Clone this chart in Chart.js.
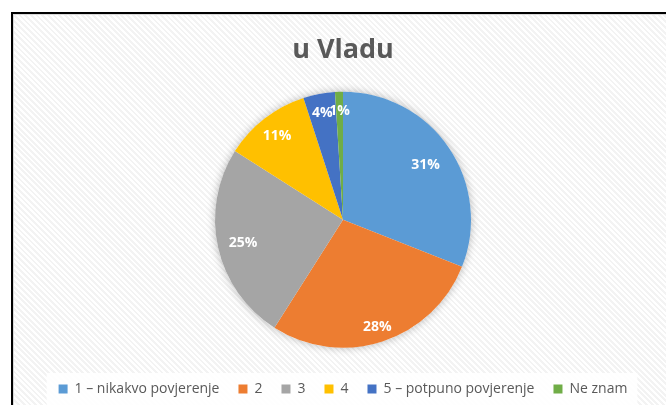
<!DOCTYPE html>
<html>
<head>
<meta charset="utf-8">
<script src="https://cdn.jsdelivr.net/npm/chart.js@4"></script>
<style>
  html, body { margin: 0; padding: 0; width: 666px; height: 405px; overflow: hidden; background: #ffffff; }
  #frame {
    position: absolute; left: 11px; top: 12px; width: 700px; height: 440px;
    border-left: 2px solid #000; border-top: 2px solid #000;
    box-shadow: inset 1px 1px 0 #d9d9d9;
    background: repeating-linear-gradient(45deg, #ffffff 0px, #ffffff 2px, #f3f3f3 2px, #f3f3f3 4px);
  }
  #wrap { position: absolute; left: 13px; top: 14px; width: 660px; height: 392px; }
</style>
</head>
<body>
<div id="frame"></div>
<div id="wrap"><canvas id="pie"></canvas></div>
<script>
// Povjerenje u Vladu
const categories = ['1 – nikakvo povjerenje', '2', '3', '4', '5 – potpuno povjerenje', 'Ne znam'];
const percentages = [31, 28, 25, 11, 4, 1];
const sliceColors = ['#5B9BD5', '#ED7D31', '#A5A5A5', '#FFC000', '#4472C4', '#70AD47'];
const chartTitle = 'u Vladu';

// Ombre douce sous le disque
const shadowPlugin = {
    id: 'pieShadow',
    beforeDatasetsDraw(chart) {
        const arc = chart.getDatasetMeta(0).data[0];
        if (!arc) return;
        const ctx = chart.ctx;
        ctx.save();
        ctx.shadowColor = 'rgba(0,0,0,0.28)';
        ctx.shadowBlur = 9;
        ctx.fillStyle = '#ffffff';
        ctx.beginPath();
        ctx.arc(arc.x, arc.y, arc.outerRadius, 0, Math.PI * 2);
        ctx.fill();
        ctx.restore();
    }
};

// Fond blanc derrière la légende
const legendBgPlugin = {
    id: 'legendBg',
    beforeDraw(chart) {
        const boxes = chart.legend && chart.legend.legendHitBoxes;
        if (!boxes || !boxes.length) return;
        const left = Math.min(...boxes.map(b => b.left)) - 12;
        const right = Math.max(...boxes.map(b => b.left + b.width)) + 10;
        const top = boxes[0].top - 9;
        const ctx = chart.ctx;
        ctx.save();
        ctx.fillStyle = 'rgba(255,255,255,0.85)';
        ctx.fillRect(left, top, right - left, 34);
        ctx.restore();
    }
};

// Étiquettes de pourcentage dans les parts
const labelPlugin = {
    id: 'sliceLabels',
    afterDatasetsDraw(chart, args, opts) {
        const ctx = chart.ctx;
        const meta = chart.getDatasetMeta(0);
        ctx.save();
        ctx.font = 'bold 14px "Open Sans"';
        ctx.fillStyle = '#ffffff';
        ctx.textAlign = 'center';
        ctx.textBaseline = 'middle';
        meta.data.forEach((arc, i) => {
            const mid = (arc.startAngle + arc.endAngle) / 2;
            const r = arc.outerRadius * opts.radii[i];
            ctx.fillText(percentages[i] + '%', arc.x + Math.cos(mid) * r, arc.y + Math.sin(mid) * r + 1);
        });
        ctx.restore();
    }
};

new Chart(document.getElementById('pie').getContext('2d'), {
    type: 'pie',
    data: {
        labels: categories,
        datasets: [{
            data: percentages,
            backgroundColor: sliceColors,
            borderWidth: 0,
            radius: 128
        }]
    },
    options: {
        responsive: true,
        maintainAspectRatio: false,
        animation: false,
        layout: { padding: 0 },
        plugins: {
            title: {
                display: true,
                text: chartTitle,
                color: '#595959',
                font: { family: '"Open Sans"', size: 27, weight: 'bold', lineHeight: 1.2 },
                padding: { top: 20, bottom: 10 }
            },
            legend: {
                display: true,
                position: 'bottom',
                labels: {
                    color: '#595959',
                    font: { family: '"Open Sans"', size: 14 },
                    boxWidth: 9,
                    boxHeight: 9,
                    padding: 19
                }
            },
            tooltip: { enabled: false },
            sliceLabels: { radii: [0.78, 0.87, 0.8, 0.84, 0.86, 0.86] }
        }
    },
    plugins: [shadowPlugin, legendBgPlugin, labelPlugin]
});
</script>
</body>
</html>
